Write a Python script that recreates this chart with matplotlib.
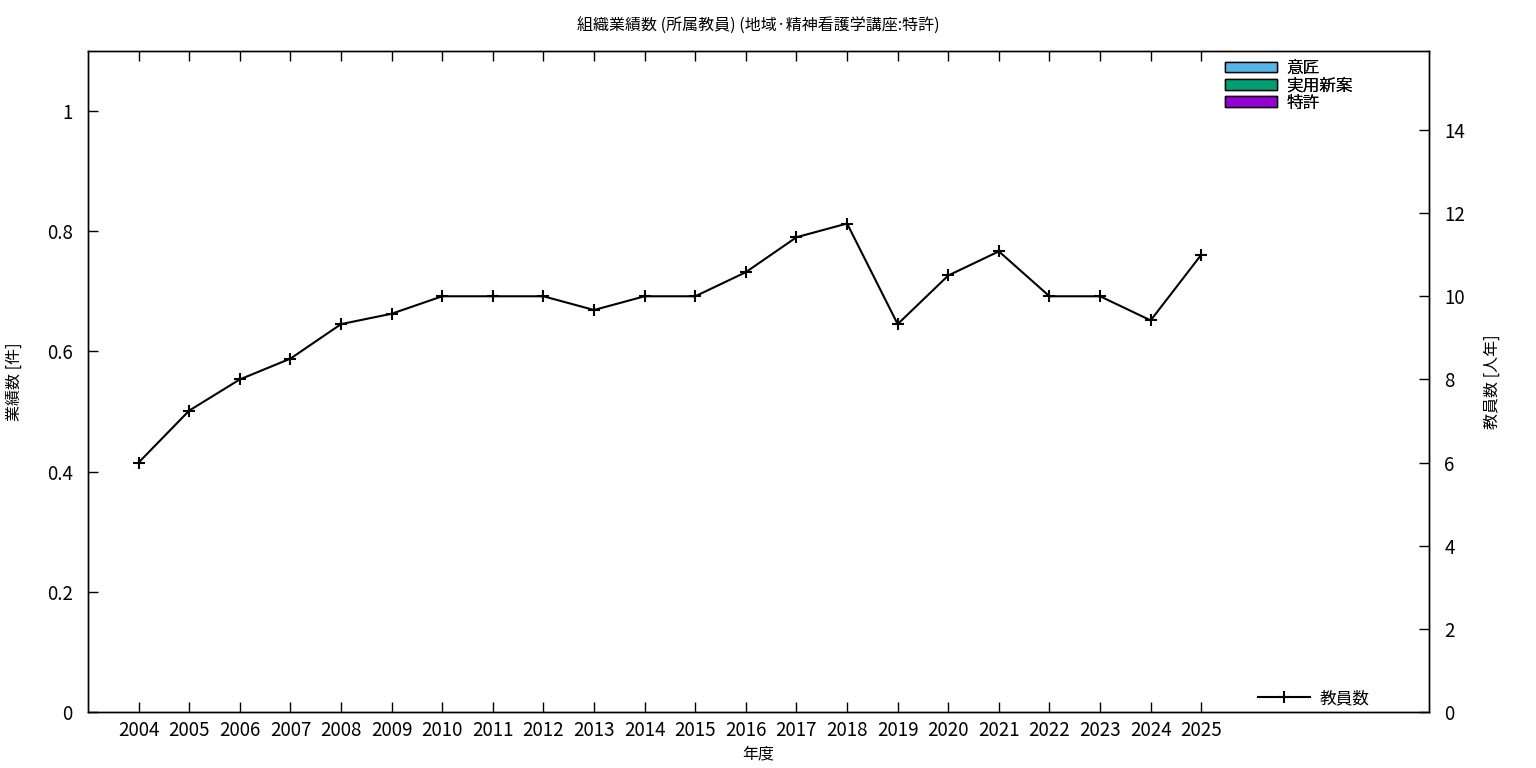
import matplotlib
matplotlib.use("Agg")
import matplotlib.pyplot as plt
import numpy as np
from matplotlib.patches import Patch
from matplotlib.lines import Line2D

plt.rcParams['font.family'] = ['Noto Sans CJK JP', 'DejaVu Sans']

years = list(range(2004, 2026))
design = [0] * len(years)          # 意匠
utility = [0] * len(years)         # 実用新案
patent = [0] * len(years)          # 特許
staff = [6, 7.25, 8, 8.5, 9.33, 9.58, 10, 10, 10, 9.67, 10, 10,
         10.58, 11.42, 11.75, 9.33, 10.5, 11.08, 10, 10, 9.42, 11]

title = "組織業績数 (所属教員) (地域·精神看護学講座:特許)"
series_names = ["意匠", "実用新案", "特許"]
series_colors = ["#56B4E9", "#009E73", "#9400D3"]

fig = plt.figure(figsize=(15.36, 7.68), dpi=100)
ax = fig.add_axes([88/1536, 56/768, (1429-88)/1536, (712-51)/768])
ax2 = ax.twinx()

x = np.array(years)
bottom = np.zeros(len(years))
for vals, c in zip([patent, utility, design], series_colors[::-1]):
    v = np.array(vals, dtype=float)
    ax.bar(x, v, width=0.5, bottom=bottom, color=c,
           edgecolor='black', linewidth=[1 if t > 0 else 0 for t in v])
    bottom += v

ax2.plot(x, staff, color='black', linewidth=1.5, marker='+', markersize=9,
         markeredgewidth=1.5)

ax.set_xlim(2003, 2029.5)
ax.set_ylim(0, 1.1)
ax2.set_ylim(0, 15.9)
ax.set_xticks(years)
ax.set_xticklabels([str(y) for y in years])
ax.set_yticks([0, 0.2, 0.4, 0.6, 0.8, 1])
ax.set_yticklabels(["0", "0.2", "0.4", "0.6", "0.8", "1"])
ax2.set_yticks(range(0, 15, 2))

ax.tick_params(axis='x', direction='in', length=7, width=1, top=True, labelsize=13.5, pad=6)
ax.tick_params(axis='y', direction='in', length=7, width=1, labelsize=13.5, pad=11)
ax2.tick_params(axis='y', direction='in', length=7, width=1, labelsize=13.5, pad=11)
for a in (ax, ax2):
    for s in a.spines.values():
        s.set_linewidth(1)

ax.set_xlabel("年度", fontsize=11.5, labelpad=3)
ax.set_ylabel("業績数 [件]", fontsize=11.5)
ax.yaxis.set_label_coords((23 - 88) / 1341, 0.5)
ax2.set_ylabel("教員数 [人年]", fontsize=11.5)
ax2.yaxis.set_label_coords((1484 - 88) / 1341, 0.5)
fig.text((88 + 1429) / 2 / 1536, 1 - 26/768, title, ha='center', va='center', fontsize=11.5)

handles = [Patch(facecolor=c, edgecolor='black', linewidth=1) for c in series_colors]
leg1 = ax.legend(handles, series_names, loc='upper left',
                 bbox_to_anchor=((1225 - 88) / 1341, (712 - 60) / 661),
                 frameon=False, fontsize=12, handlelength=3.1, handleheight=0.6,
                 labelspacing=0.02, handletextpad=0.6, borderaxespad=0, borderpad=0)
ax.add_artist(leg1)
lh = [Line2D([0], [0], color='black', linewidth=1.5, marker='+', markersize=9,
             markeredgewidth=1.5)]
ax2.legend(lh, ["教員数"], loc='lower left',
           bbox_to_anchor=((1258 - 88) / 1341, (712 - 707) / 661),
           frameon=False, fontsize=12, handlelength=3.1, handletextpad=0.6,
           borderaxespad=0, borderpad=0)

fig.savefig("out.png", dpi=100)
